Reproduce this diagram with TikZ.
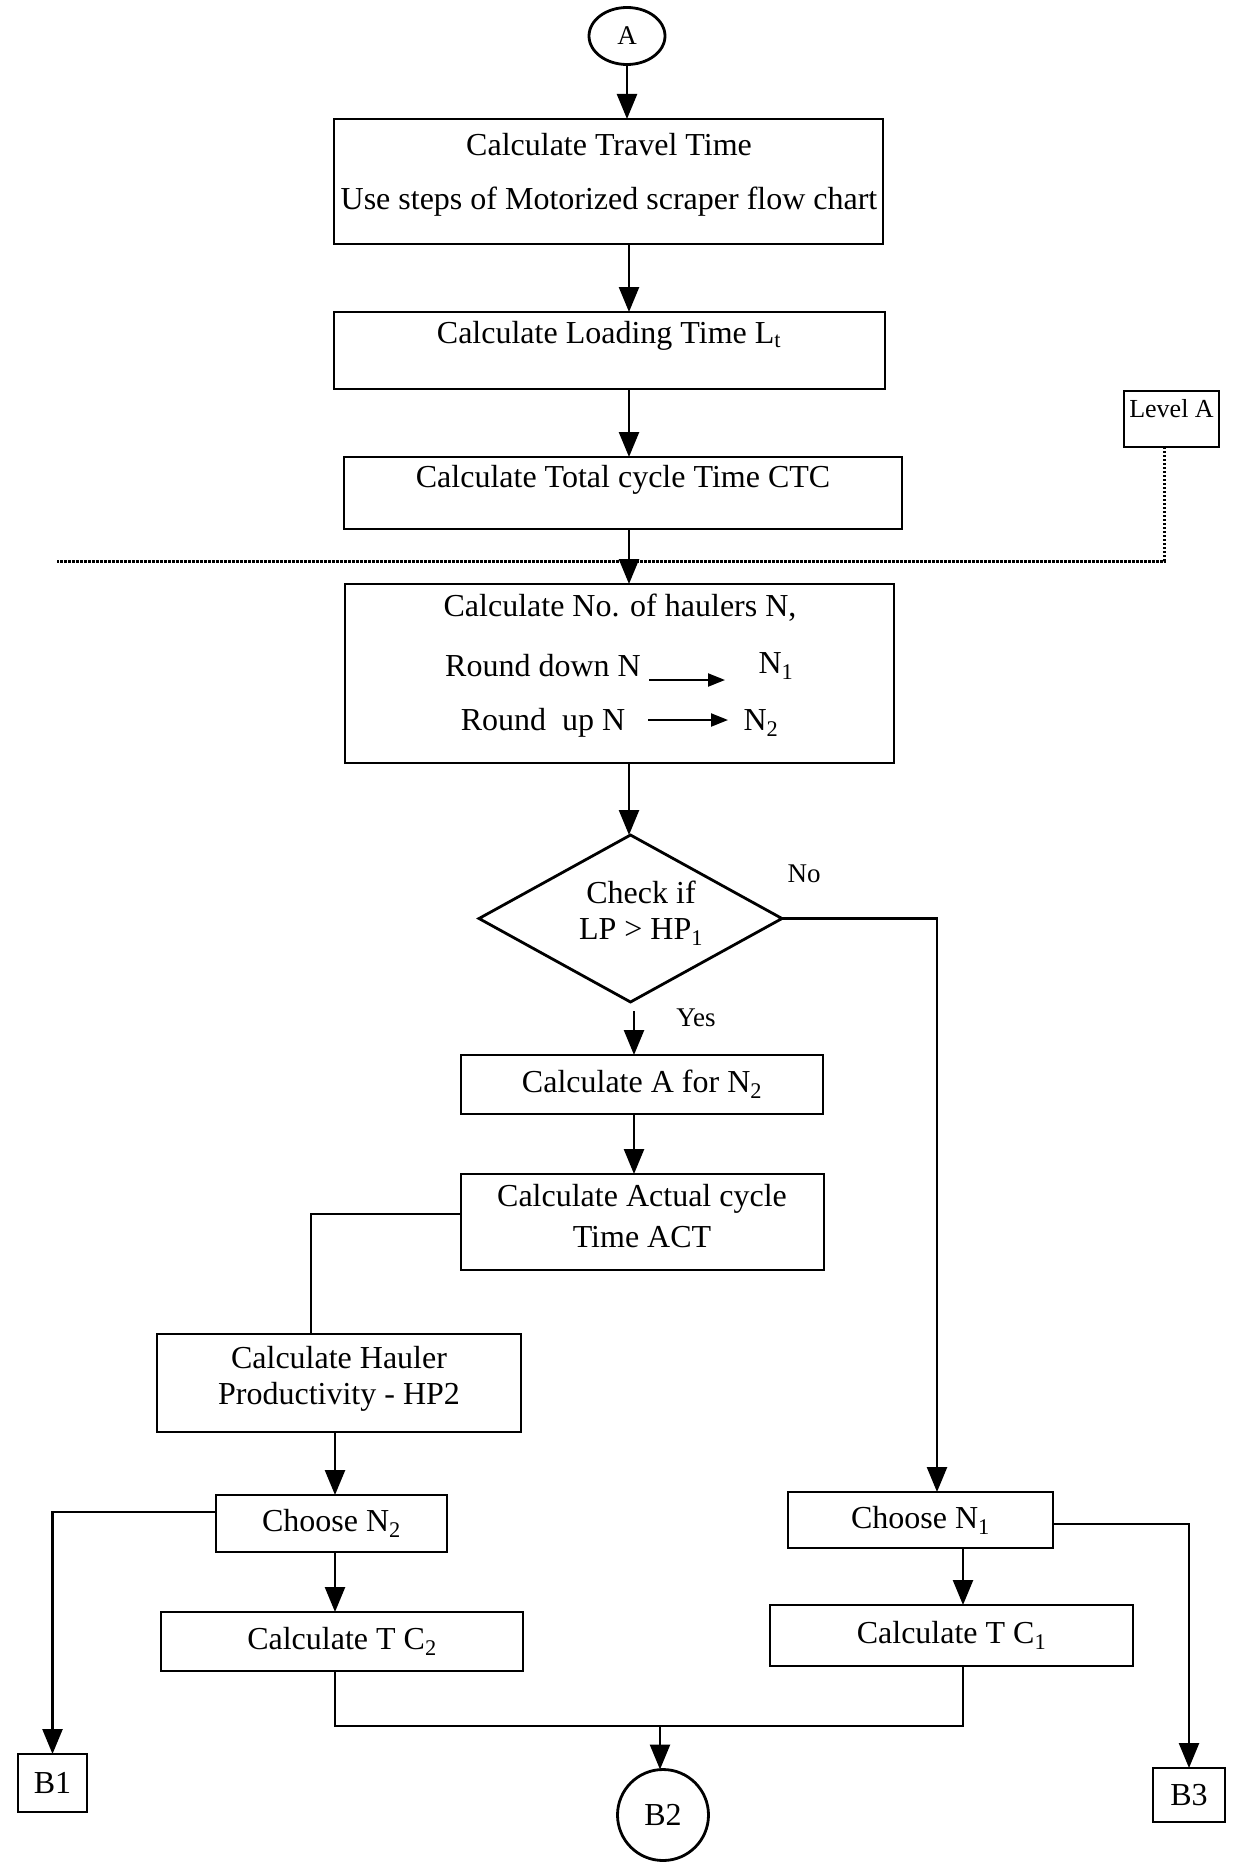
\documentclass[tikz,border=0pt]{standalone}
\usepackage{fontspec}
\setmainfont{Liberation Serif}
\usetikzlibrary{arrows.meta,shapes.geometric,calc}

\begin{document}
\begin{tikzpicture}[x=1pt,y=-1pt,
  box/.style={draw, line width=2.8pt, inner sep=0pt, outer sep=0pt},
  txt/.style={inner sep=0pt, font=\fontsize{32}{36}\selectfont},
  lbl/.style={inner sep=0pt, font=\fontsize{27}{30}\selectfont},
  conn/.style={line width=2.5pt},
  arr/.style={conn, -{Triangle[length=25pt,width=20pt]}},
  tinyarr/.style={line width=2.2pt, -{Triangle[length=17pt,width=13pt]}},
  levelline/.style={line width=3pt, dash pattern=on 2.2pt off 1.8pt},
]
\fill[white] (0,0) rectangle (1232,1865);
\useasboundingbox (0,0) rectangle (1232,1865);

% ---- connector start
\node[box, ellipse, minimum width=76pt, minimum height=57pt, font=\fontsize{27}{30}\selectfont] (A) at (627,36) {A};

% ---- upper column of steps
\node[box, minimum width=549pt, minimum height=125pt] (travel) at (608.5,181.5) {};
\node[txt] (travel1) at (609,145) {Calculate Travel Time};
\node[txt] (travel2) at (609,202) {Use steps of Motorized scraper flow chart};

\node[box, minimum width=551pt, minimum height=77pt] (load) at (609.5,350.5) {};
\node[txt] (loadtxt) at (609,336) {Calculate Loading Time L\textsubscript{t}};

\node[box, minimum width=558pt, minimum height=72pt] (ctc) at (623,493) {};
\node[txt] (ctctxt) at (623,480) {Calculate Total cycle Time CTC};

\node[box, minimum width=95pt, minimum height=56pt] (levela) at (1171.5,419) {};
\node[lbl, font=\fontsize{26}{30}\selectfont] (levelatxt) at (1171.5,409) {Level A};

\node[box, minimum width=549pt, minimum height=179pt] (haul) at (619.5,673.5) {};
\node[txt] (haul1) at (620,608) {Calculate No. of haulers N,};
\node[txt] (haul2) at (543,666) {Round down N};
\node[txt] (haul3) at (776,666) {N\textsubscript{1}};
\node[txt] (haul4) at (543,723) {Round\ \ up N};
\node[txt] (haul5) at (761,723) {N\textsubscript{2}};
\coordinate (rd1) at (649,680);
\coordinate (rd2) at (725,680);
\coordinate (ru1) at (648,720);
\coordinate (ru2) at (728,720);
\draw[tinyarr] (rd1) -- (rd2);
\draw[tinyarr] (ru1) -- (ru2);

% ---- decision
\node[box, diamond, minimum width=303pt, minimum height=167pt] (dia) at (630.5,918.5) {};
\node[txt] (dia1) at (641,892) {Check if};
\node[txt] (dia2) at (641,932) {LP > HP\textsubscript{1}};
\node[lbl] (no) at (804,874) {No};
\node[lbl] (yes) at (696,1018) {Yes};

% ---- "yes" branch
\node[box, txt, minimum width=362pt, minimum height=59pt] (ca) at (642,1084.5) {Calculate A for N\textsubscript{2}};

\node[box, minimum width=363pt, minimum height=96pt] (act) at (642.5,1222) {};
\node[txt] (act1) at (642,1199) {Calculate Actual cycle};
\node[txt] (act2) at (642,1237) {Time ACT};

\node[box, minimum width=364pt, minimum height=98pt] (hp) at (339,1383) {};
\node[txt] (hp1) at (339,1358) {Calculate Hauler};
\node[txt] (hp2) at (339,1397) {Productivity - HP2};

\node[box, txt, minimum width=231pt, minimum height=57pt] (n2) at (331.5,1523.5) {Choose N\textsubscript{2}};
\node[box, txt, minimum width=362pt, minimum height=59pt] (tc2) at (342,1641.5) {Calculate T C\textsubscript{2}};

% ---- "no" branch
\node[box, txt, minimum width=265pt, minimum height=56pt] (n1) at (920.5,1520) {Choose N\textsubscript{1}};
\node[box, txt, minimum width=363pt, minimum height=61pt] (tc1) at (951.5,1635.5) {Calculate T C\textsubscript{1}};

% ---- exits
\node[box, txt, minimum width=69pt, minimum height=58pt] (b1) at (52.5,1783) {B1};
\node[box, txt, circle, minimum size=91pt] (B2) at (663,1815) {B2};
\node[box, txt, minimum width=72pt, minimum height=54pt] (b3) at (1189,1795) {B3};

% ---- connectors
\coordinate (spine) at (629,0);
\draw[arr] (A.south) -- (A.south |- travel.north);
\draw[arr] (travel.south -| spine) -- (load.north -| spine);
\draw[arr] (load.south -| spine) -- (ctc.north -| spine);
\draw[arr] (ctc.south -| spine) -- (haul.north -| spine);
\draw[arr] (haul.south -| spine) -- (dia.north -| spine);

\coordinate (lvlend) at (57,561);
\draw[levelline] ([xshift=-7pt]levela.south) |- (lvlend);

\coordinate (nocorner) at (937,915);
\draw[arr] (dia.east) -- (dia.east -| nocorner) -- (nocorner |- n1.north);

\coordinate (yescol) at (634,1011);
\draw[arr] (yescol) -- (yescol |- ca.north);
\draw[arr] (ca.south -| yescol) -- (act.north -| yescol);

\coordinate (leftcol) at (311,1214);
\draw[conn] (act.west |- leftcol) -- (leftcol) -- (leftcol |- hp.north);

\coordinate (hpcol) at (335,0);
\draw[arr] (hp.south -| hpcol) -- (n2.north -| hpcol);
\draw[arr] (n2.south -| hpcol) -- (tc2.north -| hpcol);

\coordinate (b1row) at (0,1512);
\draw[arr] (n2.west |- b1row) -| (b1.north);

\coordinate (b3row) at (0,1524);
\draw[arr] (n1.east |- b3row) -| (b3.north);

\coordinate (tc1col) at (963,0);
\draw[arr] (n1.south -| tc1col) -- (tc1.north -| tc1col);

\coordinate (merge) at (660,1726);
\draw[conn] (tc2.south -| hpcol) |- (merge) -| (tc1.south -| tc1col);
\draw[arr] (merge) -- (merge |- B2.north);
\end{tikzpicture}
\end{document}
